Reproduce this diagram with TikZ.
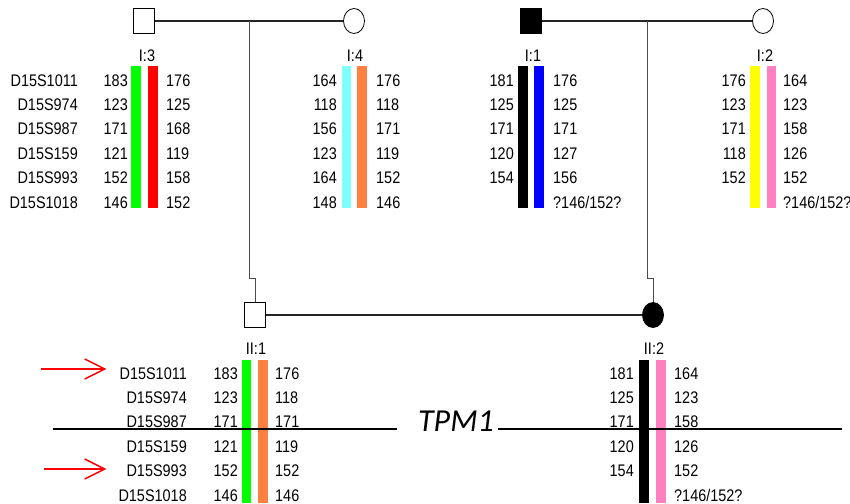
\documentclass[tikz,border=0pt]{standalone}
\usepackage{fontspec}
\setmainfont{Liberation Sans}[FakeStretch=0.86]
\newfontfamily\tpmfont{Carlito}
\usetikzlibrary{shapes.geometric,arrows.meta,positioning,calc}
\definecolor{hgreen}{HTML}{00FF00}
\definecolor{hred}{HTML}{FF0000}
\definecolor{hcyan}{HTML}{80FFFF}
\definecolor{horange}{HTML}{FF8040}
\definecolor{hblue}{HTML}{0000FF}
\definecolor{hyellow}{HTML}{FFFF00}
\definecolor{hpink}{HTML}{FF80C0}

\begin{document}
\begin{tikzpicture}[
  x=1pt,y=-1pt,
  txt/.style={inner sep=0pt,font=\fontsize{16.8}{18}\selectfont},
  male/.style={draw,minimum width=21pt,minimum height=25pt,inner sep=0pt,line width=0.8pt},
  female/.style={ellipse,draw,minimum width=21pt,minimum height=25pt,inner sep=0pt,line width=0.8pt},
  affected/.style={fill=black},
  idlab/.style={txt,anchor=base},
  lnum/.style={txt,anchor=base east},
  rnum/.style={txt,anchor=base west},
  link/.style={line width=1.3pt,black!85},
  descent/.style={line width=0.8pt,black!70},
  tpmline/.style={line width=1.3pt},
  probe/.style={-{Straight Barb[length=20pt,width=20pt]},red,line width=1.5pt}
]
  \useasboundingbox (0,0) rectangle (850,503);

  % generation I
  \node[male] (i3) at (144,21) {};
  \node[female] (i4) at (354,21) {};
  \node[male,affected] (i1) at (531,21) {};
  \node[female] (i2) at (763,21) {};
  % generation II
  \node[male] (ii1) at (255,315) {};
  \node[female,affected] (ii2) at (653,315) {};

  \node[idlab] (li3) at (147,62) {I:3};
  \node[idlab] (li4) at (355,62) {I:4};
  \node[idlab] (li1) at (533,62) {I:1};
  \node[idlab] (li2) at (765,62) {I:2};
  \node[idlab] (lii1) at (256,354) {II:1};
  \node[idlab] (lii2) at (654,354) {II:2};

  % haplotype bars
  \fill[hgreen] (131,66) rectangle (141,208);
  \fill[hred] (148,66) rectangle (158,208);
  \fill[hcyan] (342,66) rectangle (351,208);
  \fill[horange] (357,66) rectangle (367,208);
  \fill[black] (518,66) rectangle (528,208);
  \fill[hblue] (534,66) rectangle (544,208);
  \fill[hyellow] (750,66) rectangle (760,208);
  \fill[hpink] (767,66) rectangle (776,208);
  \fill[hgreen] (242,360) rectangle (251,503);
  \fill[horange] (258,360) rectangle (268,503);
  \fill[black] (639,360) rectangle (649,503);
  \fill[hpink] (656,360) rectangle (666,503);

  % markers
  \foreach \m [count=\i from 0] in {D15S1011,D15S974,D15S987,D15S159,D15S993,D15S1018}{
    \node[lnum] (mka\i) at (78,{86+24.4*\i}) {\m};
    \node[lnum] (mkb\i) at (187,{379+24.4*\i}) {\m};
  }

  % alleles, generation I
  \foreach \a/\b [count=\i from 0] in {183/176,123/125,171/168,121/119,152/158,146/152}{
    \node[lnum] (i3a\i) at (128,{86+24.4*\i}) {\a};
    \node[rnum] (i3b\i) at (166,{86+24.4*\i}) {\b};
  }
  \foreach \a/\b [count=\i from 0] in {164/176,118/118,156/171,123/119,164/152,148/146}{
    \node[lnum] (i4a\i) at (337,{86+24.4*\i}) {\a};
    \node[rnum] (i4b\i) at (376,{86+24.4*\i}) {\b};
  }
  \foreach \a/\b [count=\i from 0] in {181/176,125/125,171/171,120/127,154/156}{
    \node[lnum] (i1a\i) at (514,{86+24.4*\i}) {\a};
    \node[rnum] (i1b\i) at (553,{86+24.4*\i}) {\b};
  }
  \node[rnum] (i1b5) at (553,{86+24.4*5}) {?146/152?};
  \foreach \a/\b [count=\i from 0] in {176/164,123/123,171/158,118/126,152/152}{
    \node[lnum] (i2a\i) at (746,{86+24.4*\i}) {\a};
    \node[rnum] (i2b\i) at (783,{86+24.4*\i}) {\b};
  }
  \node[rnum] (i2b5) at (783,{86+24.4*5}) {?146/152?};

  % alleles, generation II
  \foreach \a/\b [count=\i from 0] in {183/176,123/118,171/171,121/119,152/152,146/146}{
    \node[lnum] (ii1a\i) at (238,{379+24.4*\i}) {\a};
    \node[rnum] (ii1b\i) at (275,{379+24.4*\i}) {\b};
  }
  \foreach \a/\b [count=\i from 0] in {181/164,125/123,171/158,120/126,154/152}{
    \node[lnum] (ii2a\i) at (634,{379+24.4*\i}) {\a};
    \node[rnum] (ii2b\i) at (674,{379+24.4*\i}) {\b};
  }
  \node[rnum] (ii2b5) at (674,{379+24.4*5}) {?146/152?};

  % pedigree lines
  \draw[link] (i3) -- (i4);
  \draw[link] (i1) -- (i2);
  \draw[link] (ii1) -- (ii2);
  \coordinate (m1) at ($(i3)!0.5!(i4)$);
  \coordinate (m2) at ($(i1)!0.5!(i2)$);
  \draw[descent] (m1) -- ++(0,257) -| (ii1.north);
  \draw[descent] (m2) -- ++(0,257) -| (ii2.north);

  % TPM1 locus
  \node[anchor=base,inner sep=0pt,font=\tpmfont\itshape\fontsize{32}{34}\selectfont] (tpm) at (456,431) {TPM1};
  \coordinate (tl1) at (53,429);
  \coordinate (tl2) at (397,429);
  \coordinate (tr1) at (498,429);
  \coordinate (tr2) at (842,429);
  \draw[tpmline] (tl1) -- (tl2);
  \draw[tpmline] (tr1) -- (tr2);

  % probes
  \coordinate (p1) at (41,369);
  \coordinate (p2) at (44,469);
  \draw[probe,shorten >=13pt] (p1) -- (p1 -| mkb0.west);
  \draw[probe,shorten >=20pt] (p2) -- (p2 -| mkb4.west);
\end{tikzpicture}
\end{document}
